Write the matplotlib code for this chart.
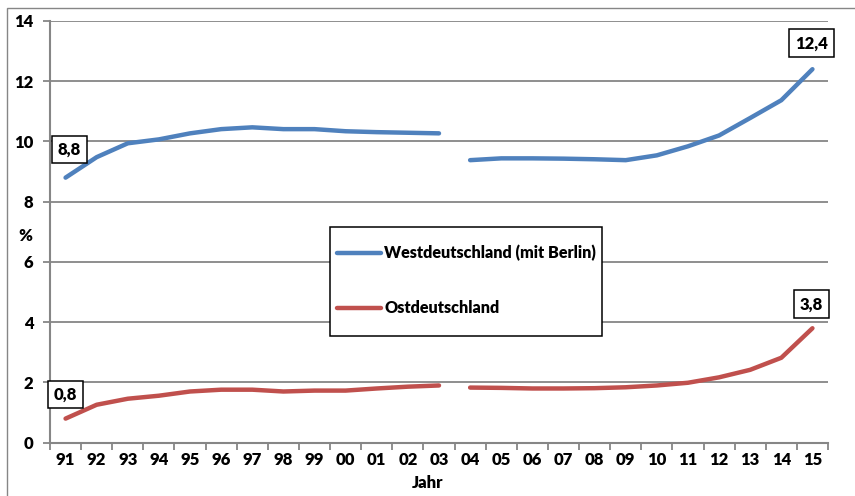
import numpy as np
import matplotlib
matplotlib.use("Agg")
import matplotlib.pyplot as plt
from matplotlib.patches import Rectangle
from matplotlib.lines import Line2D

plt.rcParams['font.family'] = ['Lato', 'DejaVu Sans']

# Jahre 1991–2015
jahre = ["91", "92", "93", "94", "95", "96", "97", "98", "99", "00", "01", "02", "03",
         "04", "05", "06", "07", "08", "09", "10", "11", "12", "13", "14", "15"]

west = [8.8, 9.48, 9.94, 10.07, 10.27, 10.41, 10.47, 10.41, 10.41, 10.34, 10.31, 10.29, 10.27,
        9.38, 9.44, 9.44, 9.43, 9.41, 9.38, 9.54, 9.84, 10.2, 10.78, 11.37, 12.4]
ost = [0.8, 1.26, 1.46, 1.56, 1.7, 1.76, 1.76, 1.7, 1.73, 1.73, 1.8, 1.86, 1.9,
       1.83, 1.82, 1.8, 1.8, 1.81, 1.84, 1.9, 1.99, 2.17, 2.42, 2.82, 3.8]

serien = ["Westdeutschland (mit Berlin)", "Ostdeutschland"]
farben = ["#4F81BD", "#C0504D"]
bruch = 13  # Zeitreihenbruch zwischen 2003 und 2004

W, H = 855, 496
FS = 12
WT = 'heavy'
plt.rcParams['font.weight'] = WT
fig = plt.figure(figsize=(W / 100, H / 100), dpi=100)
ax = fig.add_axes([50 / W, 1 - 442.7 / H, (828 - 50) / W, (442.7 - 21) / H])

grau = "#868686"
x = np.arange(len(jahre))

for werte, farbe in zip([west, ost], farben):
    w = np.array(werte)
    ax.plot(x[:bruch], w[:bruch], color=farbe, lw=3.2, solid_capstyle='round',
            solid_joinstyle='round', zorder=3)
    ax.plot(x[bruch:], w[bruch:], color=farbe, lw=3.2, solid_capstyle='round',
            solid_joinstyle='round', zorder=3)

ax.set_xlim(-0.5, len(jahre) - 0.5)
ax.set_ylim(0, 14)
ax.set_yticks(np.arange(0, 15, 2))
ax.set_yticklabels([str(v) for v in range(0, 15, 2)], fontsize=FS, fontweight=WT)
ax.set_xticks(x)
ax.set_xticklabels(jahre, fontsize=FS, fontweight=WT)
ax.set_xticks(np.arange(-0.5, len(jahre)), minor=True)
ax.tick_params(axis='x', which='major', length=0, pad=7)
ax.tick_params(axis='x', which='minor', length=5, width=1.3, color=grau, direction='out')
ax.tick_params(axis='y', length=5, width=1.3, color=grau, direction='out', pad=7)

ax.grid(axis='y', color=grau, lw=1.3)
ax.set_axisbelow(True)
for s in ['top', 'right']:
    ax.spines[s].set_visible(False)
for s in ['left', 'bottom']:
    ax.spines[s].set_color(grau)
    ax.spines[s].set_linewidth(1.5)

# Datenbeschriftungen am Anfang und Ende
box = dict(boxstyle='square,pad=0.35', facecolor='white', edgecolor='black', lw=1.1)
for werte, idx, dx, dy in [(west, 0, 4, 28), (ost, 0, 0, 24),
                           (west, -1, -1, 26), (ost, -1, -1, 24)]:
    xi = x[idx]
    ax.annotate(f"{werte[idx]:.1f}".replace(".", ","), xy=(xi, werte[idx]),
                xytext=(dx, dy), textcoords='offset pixels', ha='center', va='center',
                fontsize=FS, fontweight=WT, bbox=box, zorder=5)

# Achsentitel
fig.text(25 / W, 1 - 236 / H, "%", ha='center', va='center', fontsize=FS, fontweight=WT)
fig.text(428 / W, 1 - 483 / H, "Jahr", ha='center', va='center', fontsize=FS, fontweight=WT)

# Legende
fig.patches.append(Rectangle((330 / W, 1 - 336 / H), 272 / W, 109 / H, transform=fig.transFigure,
                             facecolor='white', edgecolor='black', lw=1.1, zorder=4))
for name, farbe, yy in zip(serien, farben, [253, 308]):
    fig.lines.append(Line2D([337 / W, 381 / W], [1 - yy / H] * 2, transform=fig.transFigure,
                            color=farbe, lw=3.2, solid_capstyle='round', zorder=5))
    fig.text(384 / W, 1 - yy / H, name, ha='left', va='center', fontsize=11.6,
             fontweight=WT, zorder=6)

# Diagrammrahmen
fig.patches.append(Rectangle((7 / W, -0.1), 2, 1 - 8 / H + 0.1, transform=fig.transFigure,
                             facecolor='none', edgecolor=grau, lw=1.0))

fig.savefig("out.png", dpi=100)
